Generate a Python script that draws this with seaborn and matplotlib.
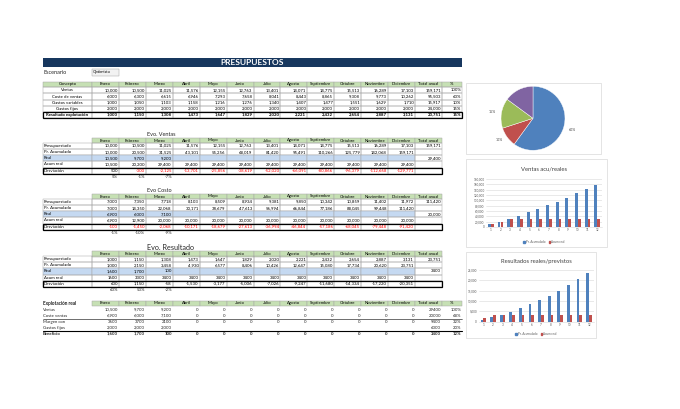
import numpy as np
import pandas as pd
import matplotlib.pyplot as plt
import seaborn as sns
from matplotlib.patches import Rectangle, Patch

# -------------------
# Datos
# -------------------
meses = ["Enero", "Febrero", "Marzo", "Abril", "Mayo", "Junio", "Julio", "Agosto",
         "Septiembre", "Octubre", "Noviembre", "Diciembre"]

ventas = [10000, 10500, 11025, 11576, 12155, 12763, 13401, 14071, 14775, 15513, 16289, 17103]
coste_ventas = [6000, 6300, 6615, 6946, 7293, 7658, 8041, 8443, 8865, 9308, 9773, 10262]
gastos_var = [1000, 1050, 1103, 1158, 1216, 1276, 1340, 1407, 1477, 1551, 1629, 1710]
gastos_fijos = [2000, 2000, 2000, 2000, 2000, 2000, 2000, 2000, 2000, 2000, 2000, 2000]
resultado = [1000, 1150, 1308, 1473, 1647, 1829, 2020, 2221, 2432, 2654, 2887, 3131]
totales_anual = [159171, 95503, 15917, 24000, 23751]
porcentajes = ["100%", "60%", "10%", "15%", "15%"]

# Evo. Ventas
ventas_pr_acum = [10000, 20500, 31525, 43101, 55256, 68019, 81420, 95491, 110266, 125779, 142068, 159171]
ventas_real = [10500, 9700, 9200]
ventas_acum_real = [10500, 20200, 29400, 29400, 29400, 29400, 29400, 29400, 29400, 29400, 29400, 29400]
ventas_desv = [500, -300, -2125, -13701, -25856, -38619, -52020, -66091, -80866, -96379, -112668, -129771]
ventas_desv_pct = ["5%", "-1%", "-7%"]

# Evo Costo
costo_pres = [7000, 7350, 7718, 8103, 8509, 8934, 9381, 9850, 10342, 10859, 11402, 11972]
costo_pr_acum = [7000, 14350, 22068, 30171, 38679, 47613, 56994, 66844, 77186, 88045, 99448, 111420]
costo_real = [6900, 6000, 7100]
costo_acum_real = [6900, 12900, 20000, 20000, 20000, 20000, 20000, 20000, 20000, 20000, 20000, 20000]
costo_desv = [-100, -1450, -2068, -10171, -18679, -27613, -36994, -46844, -57186, -68045, -79448, -91420]
costo_desv_pct = ["-1%", "-10%", "-9%"]

# Evo. Resultado
res_pr_acum = [1000, 2150, 3458, 4930, 6577, 8406, 10426, 12647, 15080, 17734, 20620, 23751]
res_real = [1600, 1700, 100]
res_acum_real = [1600, 3300, 3400, 3400, 3400, 3400, 3400, 3400, 3400, 3400, 3400, 3400]
res_desv = [600, 1150, -58, -1530, -3177, -5006, -7026, -9247, -11680, -14334, -17220, -20351]
res_desv_pct = ["60%", "53%", "-2%"]

# Explotación real
exp_conceptos = ["Ventas", "Coste ventas", "Margen con", "Gastos fijos", "Beneficio"]
exp_ventas = [10500, 9700, 9200, 0, 0, 0, 0, 0, 0, 0, 0, 0]
exp_coste = [6900, 6000, 7100, 0, 0, 0, 0, 0, 0, 0, 0, 0]
exp_margen = [3600, 3700, 2100, 0, 0, 0, 0, 0, 0, 0, 0, 0]
exp_gastos_fijos = [2000, 2000, 2000]
exp_beneficio = [1600, 1700, 100, 0, 0, 0, 0, 0, 0, 0, 0, 0]
exp_totales = [29400, 20000, 9400, 6000, 3400]
exp_pct = ["100%", "68%", "32%", "20%", "12%"]

# Pie
pie_valores = [95503, 15917, 24000, 23751]
pie_etiquetas = ["60%", "10%", "15%", ""]

# -------------------
# Estilo
# -------------------
sns.set_style("white")
plt.rcParams['font.family'] = ['Lato', 'DejaVu Sans']

AZUL = "#4F81BD"
ROJO = "#C0504D"
VERDE = "#9BBB59"
MORADO = "#8064A2"
CAB = "#C6E0B4"
REAL = "#C5D9F1"
GRIS = "#A6A6A6"
FS = 3.1

fig = plt.figure(figsize=(6.8, 4.09), dpi=100)
ax = fig.add_axes([0, 0, 1, 1])
ax.set_xlim(0, 680)
ax.set_ylim(409, 0)
ax.axis("off")

x_mes = np.linspace(92, 415, 13)
X_LAB = (43, 92)
X_TOT = (415, 442)
X_PCT = (442, 462)


def fmt(v, comma=True):
    if v is None:
        return ""
    return f"{v:,}" if comma else str(v)


def cell(x0, x1, yc, h, text="", fill="none", edge=GRIS, lw=0.35, ha="right",
         color="black", weight="normal", size=FS):
    ax.add_patch(Rectangle((x0, yc - h / 2), x1 - x0, h, facecolor=fill,
                           edgecolor=edge, linewidth=lw))
    if text != "":
        if ha == "right":
            tx = x1 - 1
        elif ha == "left":
            tx = x0 + 1
        else:
            tx = (x0 + x1) / 2
        ax.text(tx, yc, text, ha=ha, va="center", fontsize=size, color=color,
                fontweight=weight)


# -------------------
# Cabecera
# -------------------
ax.add_patch(Rectangle((43, 58), 419, 9, facecolor="#17375E", edgecolor="none"))
ax.text(252, 62.7, "PRESUPUESTOS", ha="center", va="center", color="white",
        fontsize=6, fontweight="bold")
ax.text(43, 72, "Escenario", ha="left", va="center", fontsize=4)
cell(92, 119, 72, 7, "Optimista", fill="#F2F2F2", ha="left", size=3)

# -------------------
# Tabla de presupuesto
# -------------------
yh = 84.4
cell(*X_LAB, yh, 5.8, "Concepto", fill=CAB, ha="center")
for i, m in enumerate(meses):
    cell(x_mes[i], x_mes[i + 1], yh, 5.8, m, fill=CAB, ha="center")
cell(*X_TOT, yh, 5.8, "Total anual", fill=CAB, ha="center")
cell(*X_PCT, yh, 5.8, "%", fill=CAB, ha="center")

conceptos = ["Ventas", "Coste de ventas", "Gastos variables", "Gastos fijos", "Resultado explotación"]
filas = [ventas, coste_ventas, gastos_var, gastos_fijos, resultado]
for r, (nombre, vals) in enumerate(zip(conceptos, filas)):
    yc = 90.4 + r * 6.1
    w = "bold" if r == 4 else "normal"
    cell(*X_LAB, yc, 6.1, nombre, ha="center", weight=w)
    for i, v in enumerate(vals):
        cell(x_mes[i], x_mes[i + 1], yc, 6.1, fmt(v), weight=w)
    cell(*X_TOT, yc, 6.1, fmt(totales_anual[r]), weight=w)
    cell(*X_PCT, yc, 6.1, porcentajes[r], weight=w)
ax.add_patch(Rectangle((43, 90.4 + 4 * 6.1 - 3.05), 419, 6.1, facecolor="none",
                       edgecolor="black", linewidth=0.9))


# -------------------
# Tablas Evo
# -------------------
def evo_tabla(t, titulo, tsize, tweight, pres, pres_total, acum, real, real_total,
              acum_real, desv, pcts, neg_rojo, comma_acum=True):
    ax.text(147, t, titulo, ha="left", va="center", fontsize=tsize, fontweight=tweight)
    yh = t + 6.5
    for i, m in enumerate(meses):
        cell(x_mes[i], x_mes[i + 1], yh, 5.4, m, fill=CAB, ha="center")
    cell(*X_TOT, yh, 5.4, "Total anual", fill=CAB, ha="center")

    etiquetas = ["Presupuestado", "Pr. Acumulado", "Real", "Acum real", "Desviación"]
    series = [pres, acum, real, acum_real, desv]
    tot = [pres_total, None, real_total, None, None]
    for r, (lab, vals) in enumerate(zip(etiquetas, series)):
        yc = t + 11.8 + r * 6.2
        fill = REAL if r == 2 else "none"
        cell(*X_LAB, yc, 6.2, lab, fill=fill, ha="left")
        for i in range(12):
            v = vals[i] if i < len(vals) else None
            col = "#FF0000" if (neg_rojo and v is not None and v < 0) else "black"
            comma = comma_acum if r == 3 else True
            cell(x_mes[i], x_mes[i + 1], yc, 6.2, fmt(v, comma), fill=fill, color=col)
        cell(*X_TOT, yc, 6.2, fmt(tot[r], comma_acum or r != 2))
    ax.add_patch(Rectangle((43, t + 11.8 + 4 * 6.2 - 3.1), 399, 6.2, facecolor="none",
                           edgecolor="black", linewidth=0.9))
    for i, p in enumerate(pcts):
        ax.text(x_mes[i + 1] - 1, t + 43, p, ha="right", va="center", fontsize=FS)


evo_tabla(134, "Evo. Ventas", 4, "normal", ventas, 159171, ventas_pr_acum, ventas_real,
          29400, ventas_acum_real, ventas_desv, ventas_desv_pct, True)
evo_tabla(190, "Evo Costo", 4, "normal", costo_pres, 111420, costo_pr_acum, costo_real,
          20000, costo_acum_real, costo_desv, costo_desv_pct, True)
evo_tabla(247.3, "Evo. Resultado", 5.2, "normal", resultado, 23751, res_pr_acum, res_real,
          3400, res_acum_real, res_desv, res_desv_pct, False, comma_acum=False)

# -------------------
# Explotación real
# -------------------
yh = 303.3
ax.text(43, yh, "Explotación real", ha="left", va="center", fontsize=FS + 0.3, fontweight="bold")
for i, m in enumerate(meses):
    cell(x_mes[i], x_mes[i + 1], yh, 5.4, m, fill=CAB, ha="center")
cell(*X_TOT, yh, 5.4, "Total anual", fill=CAB, ha="center")
cell(*X_PCT, yh, 5.4, "%", fill=CAB, ha="center")

exp_filas = [exp_ventas, exp_coste, exp_margen, exp_gastos_fijos, exp_beneficio]
exp_comma = [True, True, False, True, True]
for r, (lab, vals) in enumerate(zip(exp_conceptos, exp_filas)):
    yc = 309.9 + r * 6.0
    w = "bold" if r == 4 else "normal"
    ax.text(43, yc, lab, ha="left", va="center", fontsize=FS, fontweight=w)
    for i, v in enumerate(vals):
        ax.text(x_mes[i + 1] - 1, yc, fmt(v, exp_comma[r]), ha="right", va="center",
                fontsize=FS, fontweight=w)
    ax.text(X_TOT[1] - 1, yc, fmt(exp_totales[r], False), ha="right", va="center",
            fontsize=FS, fontweight=w)
    ax.text(X_PCT[1] - 1, yc, exp_pct[r], ha="right", va="center", fontsize=FS, fontweight=w)
ax.plot([43, 462], [318.9, 318.9], color="black", lw=0.4)
ax.plot([43, 462], [330.9, 330.9], color="black", lw=0.8)

# -------------------
# Marcos de los gráficos
# -------------------
for (x0, y0, x1, y1) in [(466, 83, 601, 154), (466, 159, 607, 247), (466, 252, 596, 338)]:
    ax.add_patch(Rectangle((x0, y0), x1 - x0, y1 - y0, facecolor="white",
                           edgecolor="#D9D9D9", linewidth=0.5))

# -------------------
# Pie
# -------------------
ax_pie = fig.add_axes([501 / 680, 1 - 150.3 / 409, 64 / 680, 64 / 409])
ax_pie.pie(pie_valores, colors=[AZUL, ROJO, VERDE, MORADO], startangle=90,
           counterclock=False, labels=pie_etiquetas, labeldistance=1.17,
           wedgeprops=dict(edgecolor="white", linewidth=0.3),
           textprops=dict(fontsize=2.6, color="#404040"))
ax_pie.set_xlim(-1, 1)
ax_pie.set_ylim(-1, 1)
ax_pie.set_aspect("equal")


# -------------------
# Barras
# -------------------
def barras(rect, acum, real_acum, ymax, paso, titulo, ty, ly):
    df = pd.DataFrame({
        "Mes": [str(i + 1) for i in range(12)] * 2,
        "Importe": acum + real_acum,
        "Serie": ["Pr. Acumulado"] * 12 + ["Acum real"] * 12,
    })
    axb = fig.add_axes(rect)
    sns.barplot(data=df, x="Mes", y="Importe", hue="Serie", palette=[AZUL, ROJO],
                width=0.56, saturation=1, linewidth=0, ax=axb, legend=False)
    axb.set_ylim(0, ymax)
    axb.set_xlim(-0.5, 11.5)
    ticks = np.arange(0, ymax + 1, paso)
    axb.set_yticks(ticks)
    axb.set_yticklabels([f"{int(v):,}" for v in ticks])
    axb.tick_params(labelsize=2.2, colors="#595959", length=0, pad=1)
    axb.set_xlabel("")
    axb.set_ylabel("")
    axb.grid(axis="y", color="#D9D9D9", linewidth=0.4)
    axb.set_axisbelow(True)
    axb.patch.set_alpha(0)
    for s in ["top", "right", "left"]:
        axb.spines[s].set_visible(False)
    axb.spines["bottom"].set_color("#D9D9D9")
    axb.spines["bottom"].set_linewidth(0.4)
    cx = (rect[0] + rect[2] / 2) * 680
    ax.text(cx, ty, titulo, ha="center", va="center", fontsize=4.2, color="#404040")
    fig.legend(handles=[Patch(color=AZUL, label="Pr. Acumulado"), Patch(color=ROJO, label="Acum real")],
               loc="center", bbox_to_anchor=(cx / 680, 1 - ly / 409), ncol=2, frameon=False,
               fontsize=2.2, handlelength=0.5, handleheight=0.5, columnspacing=1.0,
               handletextpad=0.4, labelcolor="#595959")


barras([486 / 680, 1 - 227 / 409, 116 / 680, 48 / 409], ventas_pr_acum, ventas_acum_real,
       180000, 20000, "Ventas acu/reales", 169, 242.3)
barras([478.5 / 680, 1 - 321.7 / 409, 115.3 / 680, 51.7 / 409], res_pr_acum, res_acum_real,
       25000, 5000, "Resultados reales/previstos", 261.7, 334.3)

plt.savefig("out.png", dpi=100)
